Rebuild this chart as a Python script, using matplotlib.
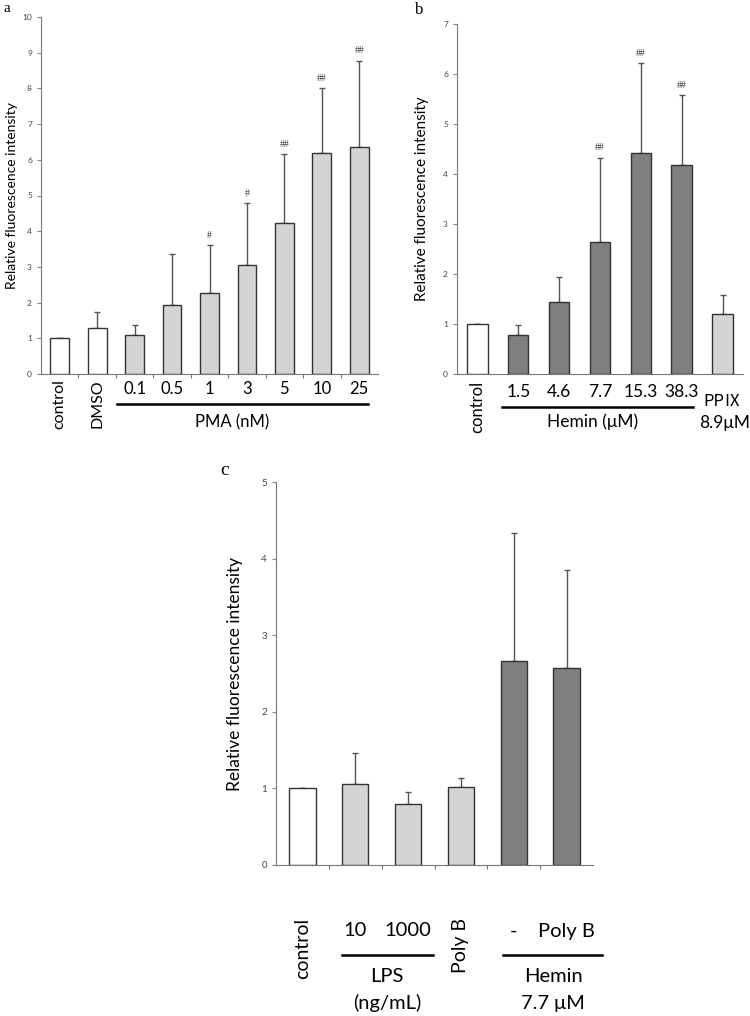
import matplotlib
matplotlib.use("Agg")
import matplotlib.pyplot as plt
import matplotlib.transforms as mtrans

plt.rcParams['font.family'] = ['Lato', 'DejaVu Sans']

# panel a: PMA
a_values = [1.0, 1.30, 1.10, 1.92, 2.28, 3.05, 4.23, 6.20, 6.37]
a_err_top = [1.0, 1.75, 1.37, 3.35, 3.60, 4.78, 6.15, 8.00, 8.78]
a_marks = ["", "", "", "", "#", "#", "##", "##", "##"]
a_kind = ["w", "w", "l", "l", "l", "l", "l", "l", "l"]
a_num_labels = ["0.1", "0.5", "1", "3", "5", "10", "25"]

# panel b: Hemin / PPIX
b_values = [1.0, 0.79, 1.45, 2.65, 4.42, 4.18, 1.20]
b_err_top = [1.0, 0.98, 1.95, 4.33, 6.22, 5.58, 1.59]
b_marks = ["", "", "", "##", "##", "##", ""]
b_kind = ["w", "d", "d", "d", "d", "d", "l"]
b_num_labels = ["1.5", "4.6", "7.7", "15.3", "38.3"]

# panel c: LPS / Poly B
c_values = [1.0, 1.06, 0.80, 1.02, 2.66, 2.57]
c_err_top = [1.0, 1.46, 0.95, 1.13, 4.33, 3.85]
c_kind = ["w", "l", "l", "l", "d", "d"]

colors = {"w": "white", "l": "#d4d4d4", "d": "#7f7f7f"}
W, H = 750, 1016

fig = plt.figure(figsize=(7.5, 10.16), dpi=100)


def make_ax(left, top, right, bottom):
    return fig.add_axes([left / W, 1 - bottom / H, (right - left) / W, (bottom - top) / H])


def fy(y):
    return 1 - y / H


def draw_bars(ax, values, err_top, kind, ymax, tick_fs, boundary_ticks):
    x = list(range(len(values)))
    up = [t - v for t, v in zip(err_top, values)]
    low = [0] * len(values)
    ax.bar(x, values, width=0.5, color=[colors[k] for k in kind],
           edgecolor="#333333", linewidth=1.0, zorder=2)
    ax.errorbar(x, values, yerr=[low, up], fmt="none", ecolor="#555555",
                elinewidth=1.0, capsize=2.5, capthick=1.0, zorder=1)
    ax.set_xlim(-0.5, len(values) - 0.5)
    ax.set_ylim(0, ymax)
    ax.set_yticks(range(0, ymax + 1))
    ax.tick_params(axis="y", labelsize=tick_fs, colors="#888888", labelcolor="#444444",
                   length=3, width=0.8)
    ax.spines["top"].set_visible(False)
    ax.spines["right"].set_visible(False)
    ax.spines["left"].set_color("#777777")
    ax.spines["bottom"].set_color("#777777")
    if boundary_ticks:
        ax.set_xticks([i + 0.5 for i in range(len(values) - 1)])
        ax.tick_params(axis="x", length=3, width=0.8, colors="#777777", labelbottom=False)
    else:
        ax.set_xticks([])
    return x


# ---- panel a ----
ax_a = make_ax(41, 17, 378, 374)
xa = draw_bars(ax_a, a_values, a_err_top, a_kind, 10, 6, True)
for i, m in enumerate(a_marks):
    if m:
        ax_a.text(xa[i], a_err_top[i] + 0.15, m, ha="center", va="bottom",
                  fontsize=7, family="Liberation Serif", color="#333333")
ax_a.set_ylabel("Relative fluorescence intensity", fontsize=10, labelpad=3)
tr_a = mtrans.blended_transform_factory(ax_a.transData, fig.transFigure)
ax_a.text(0, fy(379), "control", rotation=90, ha="center", va="top", fontsize=11.5, transform=tr_a)
ax_a.text(1, fy(379), "DMSO", rotation=90, ha="center", va="top", fontsize=11.5, transform=tr_a)
for i, lab in enumerate(a_num_labels):
    ax_a.text(i + 2, fy(389), lab, ha="center", va="center", fontsize=12, transform=tr_a)
fig.add_artist(plt.Line2D([117 / W, 368 / W], [fy(404), fy(404)], color="black", lw=1.8))
fig.text(232 / W, fy(422), "PMA (nM)", ha="center", va="center", fontsize=12)
fig.text(3 / W, fy(8), "a", ha="left", va="center", fontsize=11, family="Liberation Serif")

# ---- panel b ----
ax_b = make_ax(457, 24, 743, 374)
xb = draw_bars(ax_b, b_values, b_err_top, b_kind, 7, 6, False)
for i, m in enumerate(b_marks):
    if m:
        ax_b.text(xb[i], b_err_top[i] + 0.1, m, ha="center", va="bottom",
                  fontsize=7, family="Liberation Serif", color="#333333")
ax_b.set_ylabel("Relative fluorescence intensity", fontsize=11, labelpad=10)
tr_b = mtrans.blended_transform_factory(ax_b.transData, fig.transFigure)
ax_b.text(0, fy(381), "control", rotation=90, ha="center", va="top", fontsize=12, transform=tr_b)
for i, lab in enumerate(b_num_labels):
    ax_b.text(i + 1, fy(392), lab, ha="center", va="center", fontsize=12.5, transform=tr_b)
fig.add_artist(plt.Line2D([502 / W, 693 / W], [fy(407), fy(407)], color="black", lw=1.8))
fig.text(593 / W, fy(422), "Hemin (\u03bcM)", ha="center", va="center", fontsize=12.5)
fig.text(722 / W, fy(401), "PP\u2168", ha="center", va="center", fontsize=12,
         family=["Noto Sans CJK JP", "DejaVu Sans"])
fig.text(725 / W, fy(423), "8.9\u03bcM", ha="center", va="center", fontsize=12.5)
fig.text(415 / W, fy(10), "b", ha="left", va="center", fontsize=12, family="Liberation Serif")

# ---- panel c ----
ax_c = make_ax(276, 482, 593, 865)
xc = draw_bars(ax_c, c_values, c_err_top, c_kind, 5, 7, True)
ax_c.set_ylabel("Relative fluorescence intensity", fontsize=12.5, labelpad=13)
tr_c = mtrans.blended_transform_factory(ax_c.transData, fig.transFigure)
ax_c.text(0, fy(918), "control", rotation=90, ha="center", va="top", fontsize=14, transform=tr_c)
ax_c.text(3, fy(918), "Poly B", rotation=90, ha="center", va="top", fontsize=14, transform=tr_c)
ax_c.text(1, fy(931), "10", ha="center", va="center", fontsize=14.5, transform=tr_c)
ax_c.text(2, fy(931), "1000", ha="center", va="center", fontsize=14.5, transform=tr_c)
ax_c.text(4, fy(931), "-", ha="center", va="center", fontsize=14.5, transform=tr_c)
ax_c.text(5, fy(931), "Poly B", ha="center", va="center", fontsize=14.5, transform=tr_c)
fig.add_artist(plt.Line2D([342 / W, 433 / W], [fy(955), fy(955)], color="black", lw=1.8))
fig.add_artist(plt.Line2D([503 / W, 602 / W], [fy(955), fy(955)], color="black", lw=1.8))
fig.text(387 / W, fy(977), "LPS", ha="center", va="center", fontsize=14.5)
fig.text(387 / W, fy(1003), "(ng/mL)", ha="center", va="center", fontsize=14.5)
fig.text(553 / W, fy(977), "Hemin", ha="center", va="center", fontsize=14.5)
fig.text(553 / W, fy(1003), "7.7 \u03bcM", ha="center", va="center", fontsize=14.5)
fig.text(220 / W, fy(470), "c", ha="left", va="center", fontsize=14, family="Liberation Serif")

fig.savefig("out.png", dpi=100)
